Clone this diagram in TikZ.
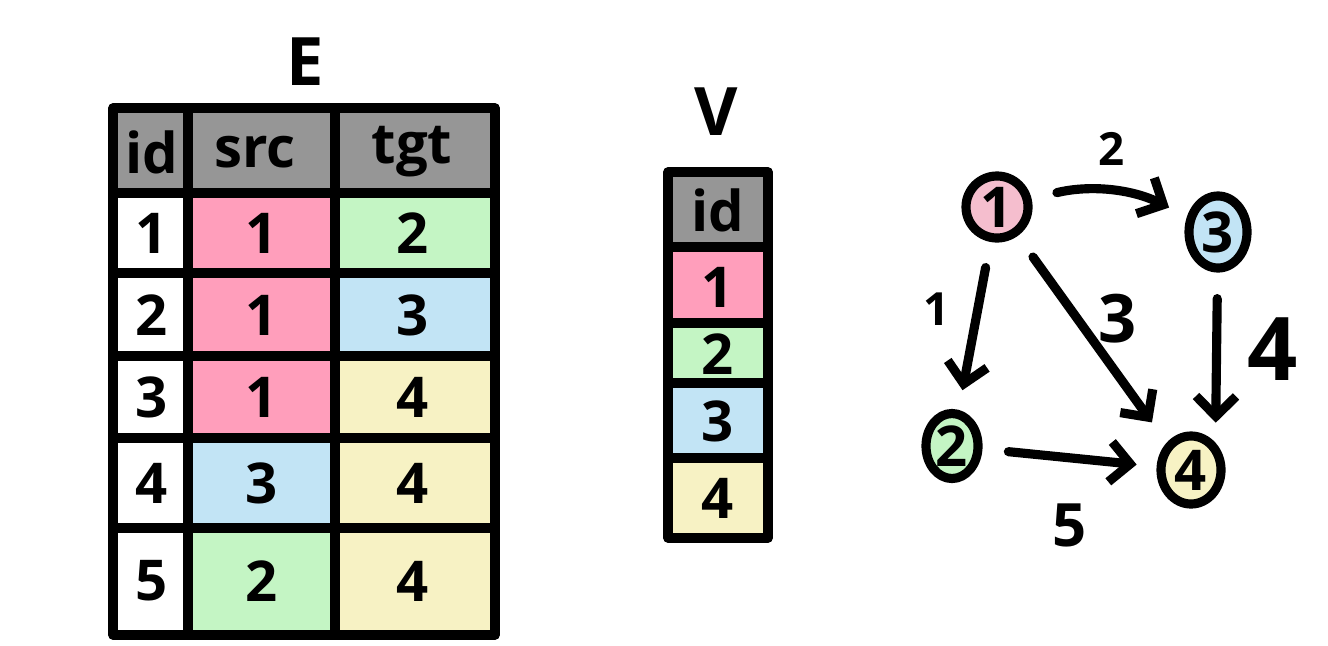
\documentclass[tikz,border=0pt]{standalone}
\usepackage{fontspec}
\setmainfont{Open Sans}
\usetikzlibrary{arrows.meta}
\usetikzlibrary{positioning}
\usetikzlibrary{shapes.geometric}

\definecolor{headgray}{RGB}{150,150,150}
\definecolor{pinkc}{RGB}{255,158,187}
\definecolor{greenc}{RGB}{196,245,196}
\definecolor{bluec}{RGB}{194,228,245}
\definecolor{yellowc}{RGB}{247,242,196}
\definecolor{vpink}{RGB}{245,190,206}

\begin{document}
\begin{tikzpicture}[x=0.01cm,y=-0.01cm,line width=2.6pt,line cap=round,line join=round,
  cell/.style={font=\fontsize{16}{16}\selectfont\bfseries},
  title/.style={font=\fontsize{19}{19}\selectfont\bfseries},
  vert/.style={ellipse,draw,inner sep=0pt,font=\fontsize{16}{16}\selectfont\bfseries},
  arr/.style={-{Straight Barb[length=0.2cm,width=0.4cm]},shorten <=0.26cm,shorten >=0.2cm},
  lab/.style={font=\fontsize{#1}{#1}\selectfont\bfseries}]
\useasboundingbox (0,0) rectangle (1328,645);

\node[title] (E) at (305,62) {E};
\fill[headgray] (113,108) rectangle (495,193);
\fill[pinkc] (188,193) rectangle (335,438);
\fill[bluec] (188,438) rectangle (335,528);
\fill[greenc] (188,528) rectangle (335,635);
\fill[greenc] (335,193) rectangle (495,273);
\fill[bluec] (335,273) rectangle (495,356);
\fill[yellowc] (335,356) rectangle (495,635);
\draw (113,108) rectangle (495,635);
\foreach \y in {193,273,356,438,528} \draw (113,\y) -- (495,\y);
\draw (188,108) -- (188,635);
\draw (335,108) -- (335,635);
\node[cell] (Eid) at (152,152) {id};
\node[cell] (Esrc) at (255,152) {src};
\node[cell] (Etgt) at (412,152) {tgt};
\foreach \r/\y/\s/\t in {1/233/1/2,2/315/1/3,3/397/1/4,4/483/3/4,5/581/2/4} {
  \node[cell] (eid\r) at (152,\y) {\r};
  \node[cell] (esrc\r) at (262,\y) {\s};
  \node[cell] (etgt\r) at (413,\y) {\t};
}

\node[title] (V) at (716,112) {V};
\fill[headgray] (668,172) rectangle (768,247);
\fill[pinkc] (668,247) rectangle (768,323);
\fill[greenc] (668,323) rectangle (768,383);
\fill[bluec] (668,383) rectangle (768,458);
\fill[yellowc] (668,458) rectangle (768,538);
\draw (668,172) rectangle (768,538);
\foreach \y in {247,323,383,458} \draw (668,\y) -- (768,\y);
\node[cell] (Vid) at (718,210) {id};
\foreach \r/\y in {1/287,2/354,3/421,4/498} \node[cell] (vid\r) at (718,\y) {\r};

\node[vert,fill=vpink,minimum width=0.62cm,minimum height=0.62cm] (n1) at (997,207) {1};
\node[vert,fill=bluec,minimum width=0.58cm,minimum height=0.72cm] (n3) at (1218,232) {3};
\node[vert,fill=greenc,minimum width=0.52cm,minimum height=0.65cm] (n2) at (952,446) {2};
\node[vert,fill=yellowc,minimum width=0.6cm,minimum height=0.68cm] (n4) at (1191,470) {4};

\draw[arr] (n1) -- (n2) node[lab=13,pos=0.4,left=0.12cm] (l1) {1};
\draw[arr] (n1) to[bend left=20] node[lab=13,above=0.1cm] (l2) {2} (n3);
\draw[arr,shorten >=0.25cm] (n1) -- (n4.north west) node[lab=19,pos=0.4,right=0.05cm] (l3) {3};
\draw[arr] (n3) -- (n4.north east) node[lab=25,pos=0.45,right=0.15cm] (l4) {4};
\draw[arr] (n2) -- (n4) node[lab=17,midway,below=0.3cm] (l5) {5};
\end{tikzpicture}
\end{document}
